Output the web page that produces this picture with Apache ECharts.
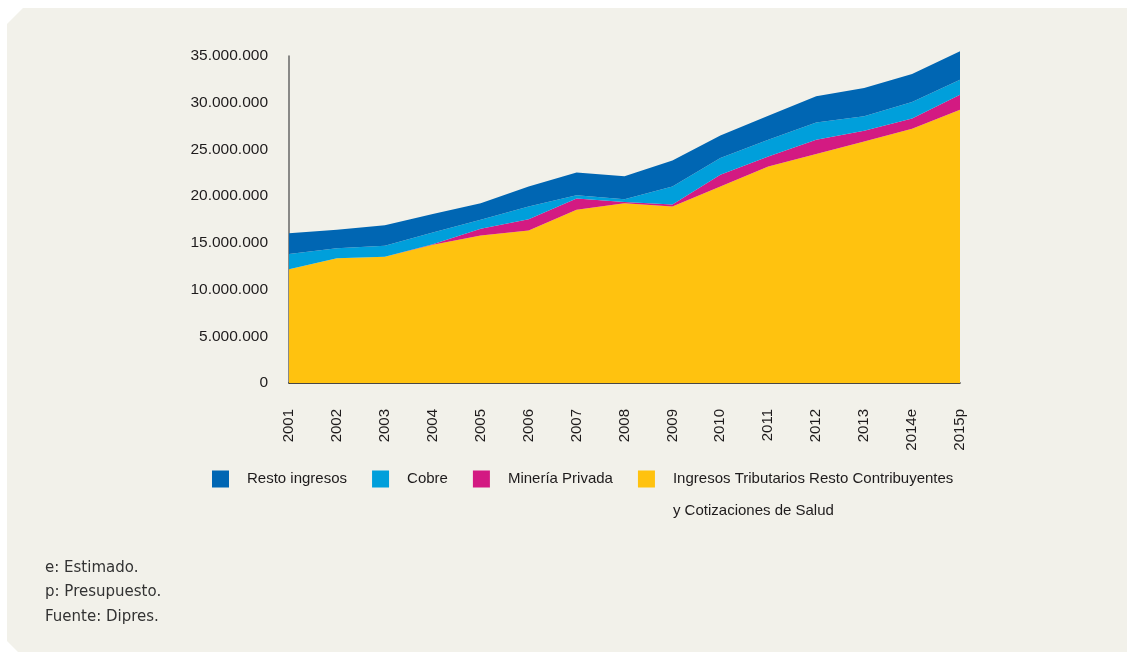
<!DOCTYPE html>
<html>
<head>
<meta charset="utf-8">
<title>Ingresos</title>
<script src="https://cdn.jsdelivr.net/npm/echarts@6/dist/echarts.min.js"></script>
<style>
    html, body { margin: 0; padding: 0; background: #ffffff; }
    #main { width: 1127px; height: 653px; }
</style>
</head>
<body>
<div id="main"></div>
<script>
// años (e: estimado, p: presupuesto)
var years = ['2001', '2002', '2003', '2004', '2005', '2006', '2007', '2008',
    '2009', '2010', '2011', '2012', '2013', '2014e', '2015p'];

// valores (apilados desde abajo)
var tributarios = [12180000, 13360000, 13500000, 14790000, 15780000, 16320000, 18540000, 19250000,
    18890000, 21030000, 23180000, 24500000, 25860000, 27210000, 29250000];
var mineria = [0, 0, 0, 50000, 720000, 1220000, 1210000, 110000,
    210000, 1260000, 1070000, 1530000, 1140000, 1110000, 1610000];
var cobre = [1640000, 1070000, 1180000, 1260000, 960000, 1350000, 350000, 320000,
    1930000, 1780000, 1780000, 1860000, 1540000, 1750000, 1600000];
var resto = [2220000, 1960000, 2210000, 2000000, 1790000, 2140000, 2440000, 2460000,
    2790000, 2430000, 2570000, 2790000, 3030000, 3000000, 3040000];

var legendNames = ['Resto ingresos', 'Cobre', 'Minería Privada',
    'Ingresos Tributarios Resto Contribuyentes\ny Cotizaciones de Salud'];

var notes = ['e: Estimado.', 'p: Presupuesto.', 'Fuente: Dipres.'];

var labelFont = "'Liberation Sans', 'Noto Sans', sans-serif";

function area(name, data, color) {
    return {
        name: name,
        type: 'line',
        stack: 'total',
        data: data,
        symbol: 'none',
        clip: false,
        lineStyle: { width: 0 },
        itemStyle: { color: color },
        areaStyle: { color: color, opacity: 1 },
        emphasis: { disabled: true }
    };
}

var myChart = echarts.init(document.getElementById('main'));

var noteFont = "15px 'DejaVu Sans'";

var option = {
    animation: false,
    backgroundColor: 'transparent',
    graphic: [
        {
            type: 'polygon',
            z: -10,
            silent: true,
            shape: { points: [[7, 24], [23, 8], [1127, 8], [1127, 652], [18, 652], [7, 641]] },
            style: { fill: '#f2f1ea' }
        },
        { type: 'text', left: 45, top: 561, style: { text: notes[0], font: noteFont, fill: '#333333' } },
        { type: 'text', left: 45, top: 585, style: { text: notes[1], font: noteFont, fill: '#333333' } },
        { type: 'text', left: 45, top: 610, style: { text: notes[2], font: noteFont, fill: '#333333' } }
    ],
    grid: {
        left: 289,
        right: 167,
        top: 56,
        bottom: 270
    },
    legend: {
        left: 212,
        top: 431,
        padding: 0,
        itemWidth: 17,
        itemHeight: 17,
        itemGap: 25,
        icon: 'rect',
        selectedMode: false,
        textStyle: {
            fontFamily: labelFont,
            fontSize: 15,
            color: '#1e1b1c',
            lineHeight: 32,
            padding: [0, 0, 0, 13]
        },
        // linea vacia delante para que la primera linea quede a la altura del icono
        formatter: function (name) {
            return name.indexOf('\n') >= 0 ? '\n' + name : name;
        },
        data: legendNames
    },
    xAxis: {
        type: 'category',
        boundaryGap: false,
        data: years,
        axisLine: { lineStyle: { color: '#111111', width: 1.5 } },
        axisTick: { show: false },
        axisLabel: {
            rotate: 90,
            margin: 26,
            interval: 0,
            fontFamily: labelFont,
            fontSize: 15,
            color: '#1e1b1c'
        }
    },
    yAxis: {
        type: 'value',
        min: 0,
        max: 35000000,
        interval: 5000000,
        axisLine: { show: true, lineStyle: { color: '#666666', width: 1.5 } },
        axisTick: { show: false },
        splitLine: { show: false },
        axisLabel: {
            margin: 21,
            fontFamily: labelFont,
            fontSize: 15.5,
            color: '#1e1b1c',
            formatter: function (v) {
                return String(v).replace(/\B(?=(\d{3})+(?!\d))/g, '.');
            }
        }
    },
    series: [
        area(legendNames[3], tributarios, '#ffc20f'),
        area(legendNames[2], mineria, '#d31a82'),
        area(legendNames[1], cobre, '#009fdb'),
        area(legendNames[0], resto, '#0066b3')
    ]
};

myChart.setOption(option);
</script>
</body>
</html>
